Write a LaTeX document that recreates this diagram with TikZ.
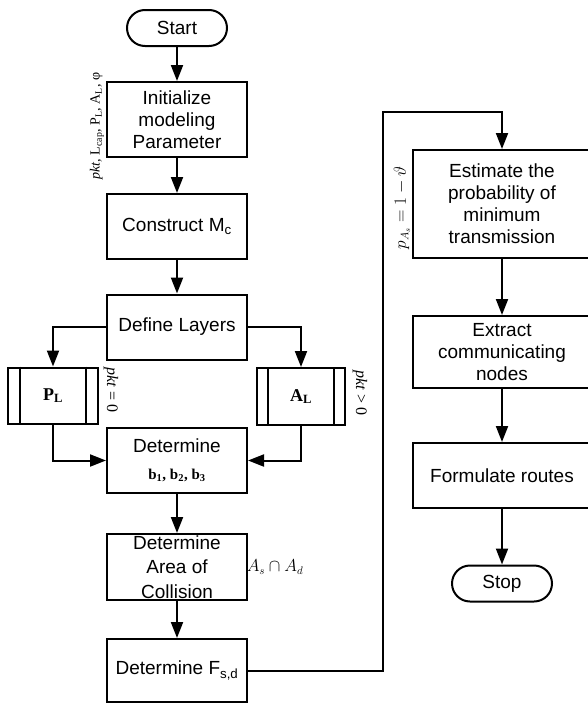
\documentclass[tikz,border=0pt]{standalone}
\usepackage{fontspec}
\setmainfont{Liberation Sans}
\newfontfamily\tnr{Liberation Serif}
\usetikzlibrary{arrows.meta}
\tikzset{
  box/.style={draw, line width=2pt, minimum width=140pt, minimum height=65pt, inner sep=0pt, align=center, font=\fontsize{19}{22}\selectfont},
  rbox/.style={box, minimum width=178pt},
  term/.style={draw, line width=2pt, rounded corners=18pt, minimum width=100pt, minimum height=36pt, inner sep=0pt, font=\fontsize{19}{22}\selectfont},
  arr/.style={line width=2pt, -{Triangle[length=16pt,width=12pt]}},
  link/.style={line width=2pt},
  lbl/.style={font=\tnr\fontsize{16}{19}\selectfont, inner sep=0pt},
  sub/.style={draw, line width=2pt, minimum width=90pt, minimum height=56pt, inner sep=0pt, font=\tnr\bfseries\fontsize{18}{20}\selectfont}
}
\begin{document}
\begin{tikzpicture}[x=1pt,y=-1pt]
\useasboundingbox (0,0) rectangle (588,704);
\clip (0,0) rectangle (588,704);
% left column
\node[term] (start) at (177,28) {Start};
\node[box, minimum height=75pt] (init) at (177,119.5) {Initialize\\modeling\\Parameter};
\node[box] (mc) at (177,226.5) {Construct M\textsubscript{c}};
\node[box] (def) at (177,327) {Define Layers};
\node[sub] (pl) at (53,395.5) {P\textsubscript{L}};
\node[sub, minimum width=88pt, minimum height=57pt] (al) at (301,396.5) {A\textsubscript{L}};
\node[box] (detb) at (177,460.5) {Determine\\[5pt]{\tnr\bfseries\fontsize{15}{17}\selectfont b\textsubscript{1}, b\textsubscript{2}, b\textsubscript{3}}};
\node[box, minimum height=66pt, font=\fontsize{19}{24.5}\selectfont] (area) at (177,567) {Determine\\Area of\\Collision};
\node[box, minimum height=63pt] (detf) at (177,670.5) {Determine F\textsubscript{s,d}};
% right column
\node[rbox, minimum height=108pt] (est) at (502,204) {Estimate the\\probability of\\minimum\\transmission};
\node[rbox, minimum height=72pt] (ext) at (502,352) {Extract\\communicating\\nodes};
\node[rbox] (form) at (502,475.5) {Formulate routes};
\node[term] (stop) at (502,583.5) {Stop};
% double bars
\draw[link] ([xshift=13pt]pl.north west) -- ([xshift=13pt]pl.south west);
\draw[link] ([xshift=-13pt]pl.north east) -- ([xshift=-13pt]pl.south east);
\draw[link] ([xshift=12pt]al.north west) -- ([xshift=12pt]al.south west);
\draw[link] ([xshift=-12pt]al.north east) -- ([xshift=-12pt]al.south east);
% connectors
\draw[arr] (start) -- (init);
\draw[arr] (init) -- (mc);
\draw[arr] (mc) -- (def);
\draw[arr] (def.west) -| (pl.north);
\draw[arr] (def.east) -| (al.north);
\draw[arr] (pl.south) |- (detb.west);
\draw[arr] (al.south) |- (detb.east);
\draw[arr] (detb) -- (area);
\draw[arr] (area) -- (detf);
\coordinate (up) at (383,112);
\draw[arr] (detf.east) -| (up) -| (est.north);
\draw[arr] (est) -- (ext);
\draw[arr] (ext) -- (form);
\draw[arr] (form) -- (stop);
% labels
\node[lbl, rotate=90, font=\tnr\fontsize{14}{16}\selectfont] (lparams) at (97,126) {\textit{pkt}, L\textsubscript{cap}, P\textsubscript{L}, A\textsubscript{L}, φ};
\node[lbl, rotate=-90] (lzero) at (111,390) {\textit{pkt} = 0};
\node[lbl, rotate=-90] (lpos) at (360,393) {\textit{pkt} > 0};
\node[lbl, rotate=90] (lprob) at (402,208) {$p_{A_s}=1-\vartheta$};
\node[lbl, font=\tnr\fontsize{16}{19}\selectfont] (lcap) at (275,567) {$A_s\cap A_d$};
\end{tikzpicture}
\end{document}
